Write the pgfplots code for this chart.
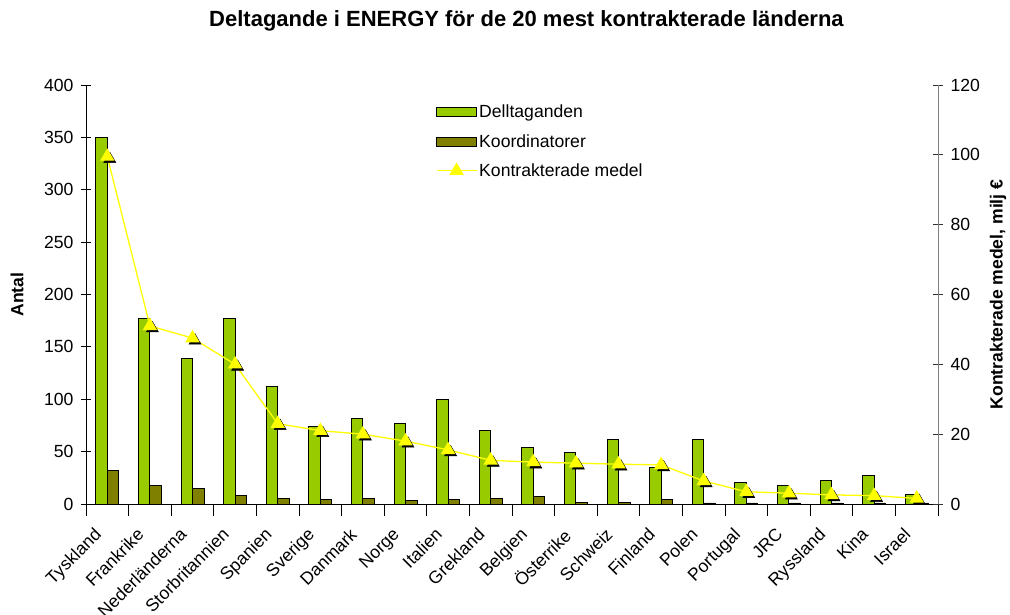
\documentclass[border=0pt]{standalone}
\usepackage{pgfplots}
\usepackage{pgfplotstable}
\pgfplotsset{compat=1.18}
\usepackage{fontspec}
\setmainfont{Liberation Sans}
\definecolor{cgreen}{RGB}{153,204,0}
\definecolor{colive}{RGB}{128,128,0}
\definecolor{cyel}{RGB}{255,255,0}
\newcommand{\lblfont}{\fontsize{17.6bp}{21bp}\selectfont}
\pgfplotsset{
  barlegend/.style={legend image code/.code={\draw[##1] (0bp,-4.5bp) rectangle (40bp,4.5bp);}},
  linelegend/.style={legend image code/.code={\draw[mark repeat=2,mark phase=2,##1] plot coordinates {(0bp,0bp) (20bp,0bp) (40bp,0bp)};}},
}
\pgfplotstableread{
x dt ko km
0 350 32 99.5
1 177 17.5 51
2 139 15 47.5
3 177 8 40
4 112 5 23
5 74 4 21
6 81.5 5.4 20
7 77 3 18
8 100 4 15.5
9 70 5.4 12.5
10 54 7 12
11 49 1.2 11.7
12 62 1.2 11.4
13 35 4 11.2
14 62 1 6.6
15 21 1 3.5
16 17.5 1 3.1
17 22.5 1 2.6
18 27 1 2.4
19 9 1 1.6
}\datatable
\begin{document}
\begin{tikzpicture}
\path[use as bounding box] (-86bp,-111bp) rectangle (924bp,504bp);
\begin{axis}[
  at={(0,0)}, anchor=south west,
  scale only axis, width=852bp, height=419bp,
  xmin=-0.5, xmax=19.5, ymin=0, ymax=400,
  ytick={0,50,...,400},
  xtick={0,...,19},
  xticklabels={Tyskland,Frankrike,Nederländerna,Storbritannien,Spanien,Sverige,Danmark,Norge,Italien,Grekland,Belgien,Österrike,Schweiz,Finland,Polen,Portugal,JRC,Ryssland,Kina,Israel},
  minor xtick={-0.5,0.5,...,19.5},
  every major x tick/.style={draw=none},
  tick align=center, major tick length=10bp, minor tick length=12bp,
  axis x line*=bottom, axis y line*=left,
  axis line style={-, black, line width=0.8bp},
  every tick/.style={black, line width=0.8bp},
  /pgf/number format/assume math mode=true,
  tick label style={font=\lblfont},
  yticklabel style={xshift=-4bp},
  xticklabel style={xshift=-14bp, yshift=-8bp, rotate=45, anchor=north east},
  ylabel={Antal},
  every axis y label/.style={at={(rel axis cs:0,0.5)}, xshift=-69bp, rotate=90, anchor=center, font=\lblfont\bfseries},
  title={Deltagande i ENERGY för de 20 mest kontrakterade länderna},
  title style={at={(0.5,1)}, anchor=base, yshift=53bp, xshift=14.5bp, font=\fontsize{22bp}{26bp}\selectfont\bfseries},
  ybar=0pt, bar width=11.5bp,
]
\addplot[fill=cgreen, draw=black, line width=0.9bp] table[x=x, y=dt] {\datatable};
\addplot[fill=colive, draw=black, line width=0.9bp] table[x=x, y=ko] {\datatable};
\end{axis}
\begin{axis}[
  at={(0,0)}, anchor=south west,
  scale only axis, width=852bp, height=419bp,
  xmin=-0.5, xmax=19.5, ymin=0, ymax=120,
  ytick={0,20,...,120},
  axis x line=none, axis y line*=right,
  axis line style={-, gray, line width=0.8bp},
  every tick/.style={black!80, line width=0.8bp},
  tick align=center, major tick length=10bp,
  /pgf/number format/assume math mode=true,
  tick label style={font=\lblfont},
  yticklabel style={xshift=4bp},
  ylabel={Kontrakterade medel, milj €},
  every axis y label/.style={at={(rel axis cs:1,0.5)}, xshift=60bp, rotate=90, anchor=center, font=\lblfont\bfseries},
  legend style={at={(0.407,0.962)}, anchor=north west, draw=none, fill=none, font=\lblfont,
    row sep=11bp, /tikz/every even column/.append style={column sep=4bp}},
  legend cell align=left,
]
\addlegendimage{barlegend, fill=cgreen, draw=black, line width=0.9bp}
\addlegendimage{barlegend, fill=colive, draw=black, line width=0.9bp}
\addplot[forget plot, only marks, mark=triangle*, mark size=7bp, black,
  every mark/.append style={xshift=2.5bp, yshift=-2.5bp}] table[x=x, y=km] {\datatable};
\addplot[linelegend, cyel, line width=1.3bp, mark=triangle*, mark size=7bp,
  mark options={fill=cyel, draw=cyel}] table[x=x, y=km] {\datatable};
\legend{Delltaganden, Koordinatorer, Kontrakterade medel}
\end{axis}
\end{tikzpicture}
\end{document}
